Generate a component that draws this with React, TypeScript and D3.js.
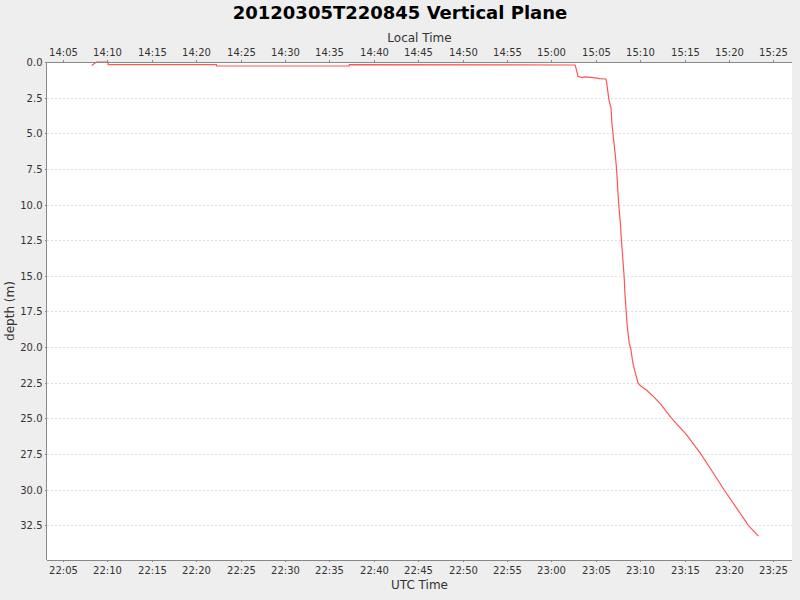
import React from 'react';
import * as d3 from 'd3';

// dive profile (UTC time, depth in metres)
const utcTimes = [
  '22:08:14', '22:08:46', '22:10:04', '22:10:05', '22:22:17', '22:22:18',
  '22:37:14', '22:37:15', '23:02:41', '23:03:00', '23:03:26', '23:03:47',
  '23:04:43', '23:05:28', '23:06:09', '23:06:14', '23:06:29', '23:06:43',
  '23:06:49', '23:07:01', '23:07:12', '23:07:19', '23:07:25', '23:07:30',
  '23:07:37', '23:07:46', '23:07:52', '23:07:59', '23:08:06', '23:08:13',
  '23:08:17', '23:08:24', '23:08:31', '23:08:38', '23:08:46', '23:08:58',
  '23:09:11', '23:09:25', '23:09:46', '23:10:06', '23:10:44', '23:11:29',
  '23:12:14', '23:13:33', '23:15:14', '23:16:51', '23:18:14', '23:19:27',
  '23:22:11', '23:23:19',
];
const depths = [
  0.24, 0.0, 0.0, 0.19, 0.19, 0.28,
  0.28, 0.19, 0.21, 1.01, 1.1, 1.05,
  1.1, 1.17, 1.19, 1.47, 2.65, 3.21,
  4.26, 5.5, 6.51, 7.33, 8.26, 9.2,
  10.23, 11.26, 12.24, 13.29, 14.23, 15.28,
  16.22, 17.27, 18.32, 19.02, 19.72, 20.2,
  21.13, 21.72, 22.53, 22.75, 23.02, 23.45,
  23.94, 25.0, 26.16, 27.5, 28.83, 30.0,
  32.5, 33.25,
];

const day = '2012-03-05';
const timeDomain = ['22:03:12', '23:27:06'];
const depthDomain = [0, 34.93];
const depthTicks = [0, 2.5, 5, 7.5, 10, 12.5, 15, 17.5, 20, 22.5, 25, 27.5, 30, 32.5];
const localOffsetHours = -8;

const chartTitle = '20120305T220845 Vertical Plane';

const W = 800;
const H = 600;
const margin = { top: 62, right: 8, bottom: 40, left: 47 };
const font = '"DejaVu Sans", Verdana, sans-serif';

const toDate = (t: string) => new Date(`${day}T${t}Z`);

export default function App() {
  const x = d3.scaleUtc()
    .domain(timeDomain.map(toDate))
    .range([margin.left, W - margin.right]);
  const y = d3.scaleLinear()
    .domain(depthDomain)
    .range([margin.top, H - margin.bottom]);

  const minuteTicks = x.ticks(d3.utcMinute.every(5) as d3.TimeInterval);
  const fmt = d3.utcFormat('%H:%M');
  const localLabel = (d: Date) => fmt(new Date(d.getTime() + localOffsetHours * 3600e3));

  const points = utcTimes.map((t, i) => ({ date: toDate(t), depth: depths[i] }));
  const line = d3.line<{ date: Date; depth: number }>()
    .x(d => x(d.date))
    .y(d => y(d.depth));

  const [x0, x1] = x.range();
  const [y0, y1] = y.range();
  const axisColor = '#888888';
  const labelColor = '#333333';

  return (
    <div style={{ position: 'absolute', left: 0, top: 0 }}>
      <svg width={W} height={H} style={{ display: 'block', fontFamily: font }}>
        <rect width={W} height={H} fill="#eeeeee" />
        <rect x={x0} y={y0} width={x1 - x0} height={y1 - y0} fill="#ffffff" />

        {/* horizontal grid */}
        {depthTicks.map(t => (
          <line key={`g${t}`} x1={x0} x2={x1} y1={Math.round(y(t)) + 0.5} y2={Math.round(y(t)) + 0.5}
            stroke="#e0e0e0" strokeWidth={1} strokeDasharray="2,2" />
        ))}

        {/* series */}
        <path d={line(points) ?? ''} fill="none" stroke="#ff5555" strokeWidth={1.2} />

        {/* top axis (local time) */}
        <line x1={x0} x2={x1} y1={y0 + 0.5} y2={y0 + 0.5} stroke={axisColor} />
        {minuteTicks.map(d => (
          <g key={`t${d.getTime()}`} transform={`translate(${Math.round(x(d)) + 0.5},${y0})`}>
            <line y1={0} y2={-2} stroke={axisColor} />
            <text y={-6.5} textAnchor="middle" fontSize={10} fill={labelColor}>{localLabel(d)}</text>
          </g>
        ))}
        <text x={(x0 + x1) / 2} y={41.5} textAnchor="middle" fontSize={12} fill={labelColor}>Local Time</text>

        {/* bottom axis (UTC) */}
        <line x1={x0} x2={x1} y1={y1 + 0.5} y2={y1 + 0.5} stroke={axisColor} />
        {minuteTicks.map(d => (
          <g key={`b${d.getTime()}`} transform={`translate(${Math.round(x(d)) + 0.5},${y1})`}>
            <line y1={0} y2={2} stroke={axisColor} />
            <text y={14} textAnchor="middle" fontSize={10} fill={labelColor}>{fmt(d)}</text>
          </g>
        ))}
        <text x={(x0 + x1) / 2} y={589} textAnchor="middle" fontSize={12} fill={labelColor}>UTC Time</text>

        {/* left axis (depth) */}
        <line x1={x0 - 0.5} x2={x0 - 0.5} y1={y0} y2={y1} stroke={axisColor} />
        {depthTicks.map(t => (
          <g key={`l${t}`} transform={`translate(${x0},${Math.round(y(t)) + 0.5})`}>
            <line x1={0} x2={-2} stroke={axisColor} />
            <text x={-4.5} dy="0.35em" textAnchor="end" fontSize={10} fill={labelColor}>{t.toFixed(1)}</text>
          </g>
        ))}
        <text transform={`translate(14,${(y0 + y1) / 2}) rotate(-90)`} textAnchor="middle"
          fontSize={12} fill={labelColor}>depth (m)</text>

        <text x={W / 2} y={19} textAnchor="middle" fontSize={18} fontWeight="bold" fill="#000000">
          {chartTitle}
        </text>
      </svg>
    </div>
  );
}
